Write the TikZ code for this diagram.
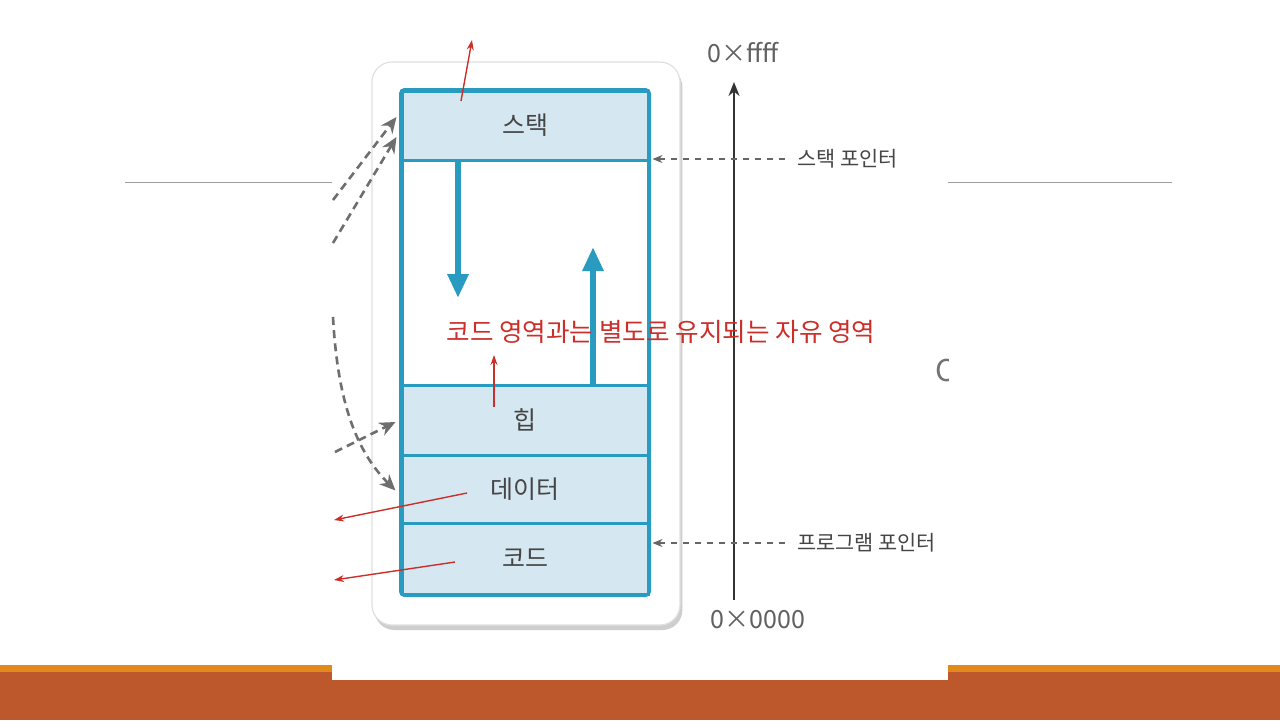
\documentclass[tikz,border=0pt]{standalone}
\usepackage{fontspec}
\setmainfont{Noto Sans CJK KR}
\usepackage{xcolor}
\usetikzlibrary{arrows.meta, positioning, shadows, calc}

\definecolor{framecol}{HTML}{2A9BC0}
\definecolor{segfill}{HTML}{D5E7F1}
\definecolor{notered}{HTML}{CC2E2A}
\definecolor{bandbrown}{HTML}{BD582C}
\definecolor{bandorange}{HTML}{E2891C}
\definecolor{labelgray}{HTML}{454545}
\definecolor{flowgray}{HTML}{6E6E6E}

\begin{document}
\begin{tikzpicture}[
    x=0.5pt, y=-0.5pt,
    seg/.style={rectangle, draw=framecol, line width=1.5pt, fill=segfill, minimum width=123pt, inner sep=0pt, font=\fontsize{12.5}{14}\selectfont, text=labelgray},
    card/.style={rectangle, draw=black!12, fill=white, line width=0.6pt, rounded corners=10pt, minimum width=154pt, minimum height=281.5pt, drop shadow={shadow xshift=1.2pt, shadow yshift=-2.5pt, fill=black!35, opacity=0.55}},
    addr/.style={font=\fontsize{12.5}{14}\selectfont, text=black!62},
    ptrlabel/.style={font=\fontsize{10.4}{12}\selectfont, text=labelgray, inner sep=0pt},
    note/.style={font=\fontsize{12.8}{14}\selectfont, text=notered, inner sep=0pt},
    growarrow/.style={-{Triangle[width=10pt, length=12pt]}, line width=3pt, framecol},
    ptr/.style={-{Stealth[length=5pt, width=4pt]}, dashed, line width=0.55pt, black!60},
    flow/.style={-{Stealth[length=8pt, width=7pt]}, line width=1.3pt, flowgray, dash pattern=on 4pt off 2.6pt},
    redarrow/.style={-{Stealth[length=5pt, width=3.5pt]}, line width=0.7pt, notered},
]

% Slide background
\fill[white] (0,0) rectangle (1280,720);
\draw[black!38, line width=0.5pt] (125,182) -- (1172,182);
\fill[bandorange] (0,665) rectangle (1280,672);
\fill[bandbrown] (0,672) rectangle (1280,720);

% Pasted picture
\fill[white] (332,0) rectangle (948,680);
\begin{scope}
    \clip (925,340) rectangle (948,400);
    \node[font=\fontsize{15}{16}\selectfont, text=black!55, anchor=west, inner sep=0pt] (hiddenc) at (935,370) {C};
\end{scope}
\node[card] (card) at (526,343.5) {};

% Memory segments
\node[seg, minimum height=34.5pt] (stack) at (525,125.5) {스택};
\node[seg, minimum height=112.5pt, fill=white] (free) at (525,272.5) {};
\node[seg, minimum height=35pt] (heap) at (525,420) {힙};
\node[seg, minimum height=34pt] (data) at (525,489) {데이터};
\node[seg, minimum height=35.5pt] (code) at (525,558.5) {코드};
\draw[framecol, line width=1.5pt, rounded corners=2pt] (stack.north west) rectangle (code.south east);

% Growth of stack and heap
\coordinate (stackgrow) at (458,298);
\coordinate (heapgrow) at (593,247);
\draw[growarrow] (stack.south -| stackgrow) -- (stackgrow);
\draw[growarrow] (heap.north -| heapgrow) -- (heapgrow);

% Address axis
\coordinate (axlow) at (734,600);
\coordinate (axhigh) at (734,82);
\draw[-{Stealth[length=7pt, width=5.5pt]}, line width=1pt, black!80] (axlow) -- (axhigh);
\node[addr] (hiaddr) at (743,53) {0×ffff};
\node[addr] (loaddr) at (758,620) {0×0000};

% Pointers
\node[ptrlabel, anchor=west] (sptr) at (797,159) {스택 포인터};
\node[ptrlabel, anchor=west] (pptr) at (797,543) {프로그램 포인터};
\draw[ptr, shorten >=1.5pt] ([xshift=-6pt]sptr.west) -- (sptr.west -| stack.east);
\draw[ptr, shorten >=1.5pt] ([xshift=-6pt]pptr.west) -- (pptr.west -| code.east);

% Dashed flows from the left
\coordinate (flowa) at (333,200);
\coordinate (flowb) at (333,243);
\coordinate (flowc) at (333,317);
\coordinate (flowd) at (335,452);
\draw[flow] (flowa) -- ($(stack.west)+(-4,-8.5)$);
\draw[flow] (flowb) -- ($(stack.west)+(-4,11.5)$);
\draw[flow] (flowc) .. controls (338,410) and (360,455) .. ($(data.north west)+(-5,37)$);
\draw[flow] (flowd) -- ($(heap.west)+(-5,2)$);

% Notes in red
\node[note] (freenote) at (661,332) {코드 영역과는 별도로 유지되는 자유 영역};
\coordinate (heapmark) at (494,407);
\coordinate (notetip) at (494,355);
\draw[redarrow] (heapmark) -- (notetip);
\coordinate (stackmark) at (461,101);
\coordinate (stackout) at (472,40);
\draw[redarrow] (stackmark) -- (stackout);
\coordinate (dataout) at (334,520);
\coordinate (codeout) at (334,580);
\draw[redarrow] ($(data.center)+(-58,4)$) -- (dataout);
\draw[redarrow] ($(code.center)+(-70,3.5)$) -- (codeout);

\end{tikzpicture}
\end{document}
